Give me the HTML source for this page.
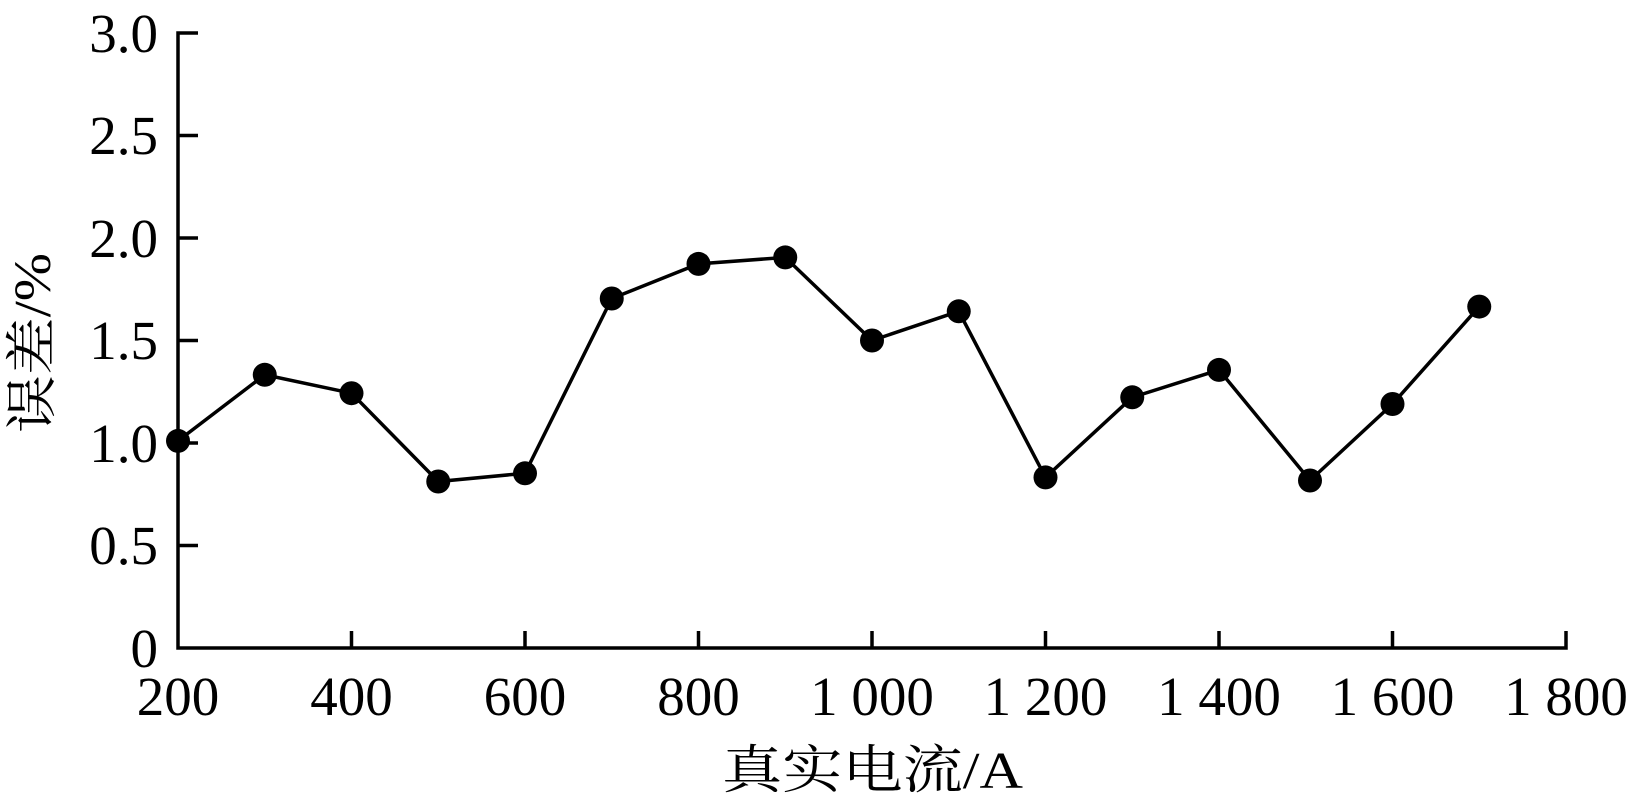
<!DOCTYPE html>
<html><head><meta charset="utf-8"><style>
html,body{margin:0;padding:0;background:#fff}
svg{display:block}
text{font-family:"Liberation Serif","Noto Serif CJK SC",serif;fill:#000}
</style></head><body>
<svg width="1633" height="804" viewBox="0 0 1633 804" xmlns="http://www.w3.org/2000/svg">
<g stroke="#000" stroke-width="3.5" fill="none">
<polyline points="198,33 178,33 178,648 1566,648 1566,631"/>
<line x1="178" y1="135.5" x2="198" y2="135.5"/>
<line x1="178" y1="238" x2="198" y2="238"/>
<line x1="178" y1="340.5" x2="198" y2="340.5"/>
<line x1="178" y1="443" x2="198" y2="443"/>
<line x1="178" y1="545.5" x2="198" y2="545.5"/>
<line x1="351.5" y1="648" x2="351.5" y2="631"/>
<line x1="525" y1="648" x2="525" y2="631"/>
<line x1="698.5" y1="648" x2="698.5" y2="631"/>
<line x1="872" y1="648" x2="872" y2="631"/>
<line x1="1045.5" y1="648" x2="1045.5" y2="631"/>
<line x1="1219" y1="648" x2="1219" y2="631"/>
<line x1="1392.5" y1="648" x2="1392.5" y2="631"/>
</g>
<g font-size="55" text-anchor="end">
<text x="158" y="52">3.0</text>
<text x="158" y="154">2.5</text>
<text x="158" y="257">2.0</text>
<text x="158" y="359">1.5</text>
<text x="158" y="462">1.0</text>
<text x="158" y="564">0.5</text>
<text x="158" y="667">0</text>
</g>
<g font-size="55" text-anchor="middle">
<text x="178" y="715">200</text>
<text x="351.5" y="715">400</text>
<text x="525" y="715">600</text>
<text x="698.5" y="715">800</text>
<text x="872" y="715">1 000</text>
<text x="1045.5" y="715">1 200</text>
<text x="1219" y="715">1 400</text>
<text x="1392.5" y="715">1 600</text>
<text x="1566" y="715">1 800</text>
</g>
<text x="722" y="788" font-size="52" textLength="301" lengthAdjust="spacingAndGlyphs">真实电流/A</text>
<text transform="translate(50,433) rotate(-90)" font-size="52" textLength="180" lengthAdjust="spacingAndGlyphs">误差/%</text>
<g>
<polyline fill="none" stroke="#000" stroke-width="3.5" points="178,440.9 264.75,374.8 351.5,393.2 438.25,481.5 525,473.3 611.75,298.5 698.5,263.9 785.25,257.4 872,340.5 958.75,311.3 1045.5,477.4 1132.25,397.3 1219,369.9 1310,480.5 1392.5,404 1479.25,306.6"/>
<g fill="#000">
<circle cx="178" cy="440.9" r="12"/><circle cx="264.75" cy="374.8" r="12"/><circle cx="351.5" cy="393.2" r="12"/><circle cx="438.25" cy="481.5" r="12"/><circle cx="525" cy="473.3" r="12"/><circle cx="611.75" cy="298.5" r="12"/><circle cx="698.5" cy="263.9" r="12"/><circle cx="785.25" cy="257.4" r="12"/><circle cx="872" cy="340.5" r="12"/><circle cx="958.75" cy="311.3" r="12"/><circle cx="1045.5" cy="477.4" r="12"/><circle cx="1132.25" cy="397.3" r="12"/><circle cx="1219" cy="369.9" r="12"/><circle cx="1310" cy="480.5" r="12"/><circle cx="1392.5" cy="404" r="12"/><circle cx="1479.25" cy="306.6" r="12"/>
</g>
</g>
</svg>
</body></html>
